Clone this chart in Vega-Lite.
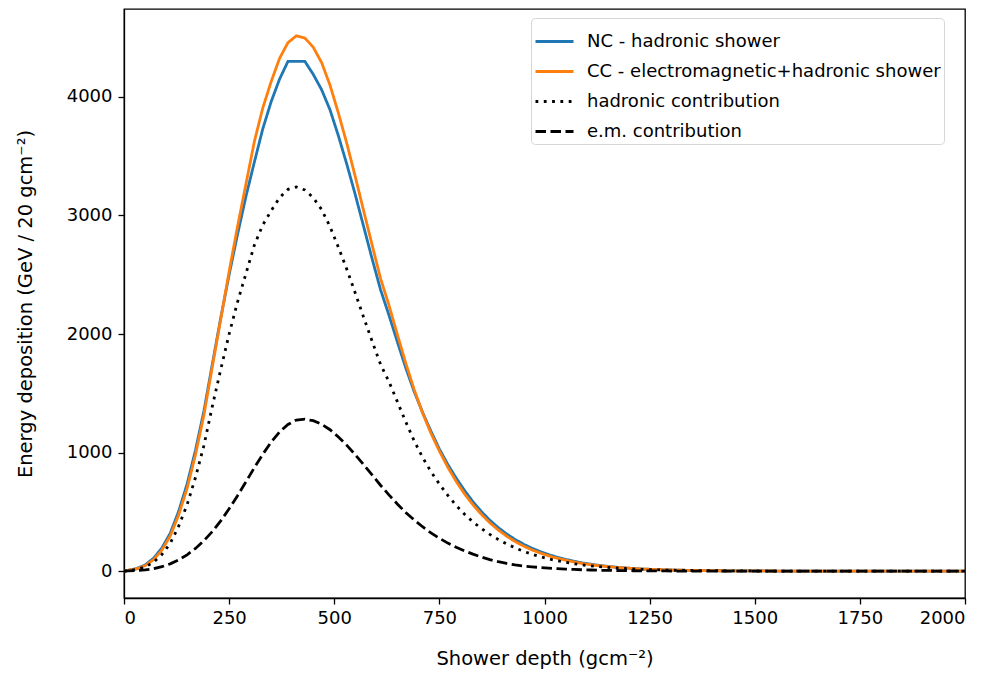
{
  "$schema": "https://vega.github.io/schema/vega-lite/v6.json",
  "width": 841,
  "height": 589,
  "autosize": {"type": "none"},
  "padding": {"left": 124, "top": 9, "right": 28, "bottom": 77},
  "background": "white",
  "config": {
    "font": "DejaVu Sans",
    "view": {"stroke": "black", "strokeWidth": 1.3},
    "axis": {
      "domainColor": "black", "tickColor": "black", "labelColor": "black", "titleColor": "black",
      "labelFont": "DejaVu Sans", "titleFont": "DejaVu Sans",
      "labelFontSize": 18, "titleFontSize": 19.5, "titleFontWeight": "normal",
      "tickSize": 6, "tickWidth": 1.3, "domainWidth": 1.3, "grid": false, "format": "d"
    },
    "legend": {
      "orient": "none", "legendX": 407, "legendY": 9,
      "labelFont": "DejaVu Sans", "labelFontSize": 18, "labelColor": "black", "labelLimit": 600,
      "symbolType": "stroke", "symbolSize": 1444, "symbolStrokeWidth": 2.8,
      "strokeColor": "#d6d6d6", "fillColor": "rgba(255,255,255,0.85)", "cornerRadius": 4,
      "padding": 3, "rowPadding": 0, "labelOffset": 12
    }
  },
  "data": {"values": [
    {"x": 0, "a": 0, "b": 0, "c": 0, "d": 0},
    {"x": 10, "a": 8, "b": 7, "c": 5, "d": 2},
    {"x": 30, "a": 22, "b": 20, "c": 15, "d": 5},
    {"x": 50, "a": 52, "b": 46, "c": 35, "d": 11},
    {"x": 70, "a": 108, "b": 96, "c": 75, "d": 21},
    {"x": 90, "a": 195, "b": 178, "c": 140, "d": 38},
    {"x": 110, "a": 320, "b": 297, "c": 235, "d": 62},
    {"x": 130, "a": 505, "b": 475, "c": 380, "d": 95},
    {"x": 150, "a": 735, "b": 698, "c": 560, "d": 138},
    {"x": 170, "a": 1020, "b": 982, "c": 790, "d": 192},
    {"x": 190, "a": 1350, "b": 1317, "c": 1060, "d": 257},
    {"x": 210, "a": 1745, "b": 1724, "c": 1390, "d": 334},
    {"x": 230, "a": 2135, "b": 2124, "c": 1700, "d": 424},
    {"x": 250, "a": 2500, "b": 2526, "c": 2000, "d": 526},
    {"x": 270, "a": 2840, "b": 2907, "c": 2270, "d": 637},
    {"x": 290, "a": 3160, "b": 3264, "c": 2510, "d": 754},
    {"x": 310, "a": 3450, "b": 3623, "c": 2750, "d": 873},
    {"x": 330, "a": 3730, "b": 3906, "c": 2920, "d": 986},
    {"x": 350, "a": 3960, "b": 4129, "c": 3040, "d": 1089},
    {"x": 370, "a": 4150, "b": 4325, "c": 3150, "d": 1175},
    {"x": 390, "a": 4300, "b": 4458, "c": 3220, "d": 1238},
    {"x": 410, "a": 4300, "b": 4515, "c": 3240, "d": 1275},
    {"x": 430, "a": 4300, "b": 4497, "c": 3215, "d": 1282},
    {"x": 450, "a": 4190, "b": 4419, "c": 3150, "d": 1269},
    {"x": 470, "a": 4060, "b": 4289, "c": 3050, "d": 1239},
    {"x": 490, "a": 3890, "b": 4098, "c": 2905, "d": 1193},
    {"x": 510, "a": 3670, "b": 3862, "c": 2730, "d": 1132},
    {"x": 530, "a": 3430, "b": 3606, "c": 2545, "d": 1061},
    {"x": 550, "a": 3175, "b": 3327, "c": 2345, "d": 982},
    {"x": 570, "a": 2905, "b": 3038, "c": 2140, "d": 898},
    {"x": 590, "a": 2635, "b": 2752, "c": 1940, "d": 812},
    {"x": 610, "a": 2375, "b": 2470, "c": 1745, "d": 725},
    {"x": 630, "a": 2160, "b": 2244, "c": 1600, "d": 644},
    {"x": 650, "a": 1935, "b": 1997, "c": 1430, "d": 567},
    {"x": 670, "a": 1715, "b": 1755, "c": 1260, "d": 495},
    {"x": 690, "a": 1515, "b": 1532, "c": 1100, "d": 432},
    {"x": 710, "a": 1340, "b": 1335, "c": 960, "d": 375},
    {"x": 730, "a": 1180, "b": 1163, "c": 840, "d": 323},
    {"x": 750, "a": 1030, "b": 1013, "c": 735, "d": 278},
    {"x": 770, "a": 900, "b": 877, "c": 640, "d": 237},
    {"x": 790, "a": 785, "b": 757, "c": 555, "d": 202},
    {"x": 810, "a": 680, "b": 651, "c": 480, "d": 171},
    {"x": 830, "a": 585, "b": 559, "c": 415, "d": 144},
    {"x": 850, "a": 502, "b": 479, "c": 360, "d": 119},
    {"x": 870, "a": 430, "b": 408, "c": 310, "d": 98},
    {"x": 890, "a": 368, "b": 348, "c": 268, "d": 80},
    {"x": 910, "a": 314, "b": 295, "c": 230, "d": 65},
    {"x": 930, "a": 268, "b": 250, "c": 197, "d": 53},
    {"x": 950, "a": 228, "b": 212, "c": 168, "d": 44},
    {"x": 970, "a": 194, "b": 180, "c": 143, "d": 37},
    {"x": 990, "a": 165, "b": 153, "c": 122, "d": 31},
    {"x": 1010, "a": 140, "b": 130, "c": 104, "d": 26},
    {"x": 1030, "a": 118, "b": 110, "c": 88, "d": 22},
    {"x": 1050, "a": 100, "b": 93, "c": 75, "d": 18},
    {"x": 1070, "a": 84, "b": 78, "c": 63, "d": 15},
    {"x": 1090, "a": 70, "b": 65, "c": 53, "d": 12},
    {"x": 1110, "a": 59, "b": 55, "c": 45, "d": 10},
    {"x": 1130, "a": 49, "b": 46, "c": 38, "d": 8},
    {"x": 1150, "a": 41, "b": 39, "c": 32, "d": 7},
    {"x": 1170, "a": 34, "b": 33, "c": 27, "d": 6},
    {"x": 1190, "a": 28, "b": 28, "c": 23, "d": 5},
    {"x": 1210, "a": 23, "b": 23, "c": 19, "d": 4},
    {"x": 1230, "a": 19, "b": 19, "c": 16, "d": 3},
    {"x": 1250, "a": 16, "b": 16, "c": 13, "d": 3},
    {"x": 1270, "a": 13, "b": 13, "c": 11, "d": 2},
    {"x": 1290, "a": 11, "b": 11, "c": 9, "d": 2},
    {"x": 1330, "a": 8, "b": 8, "c": 7, "d": 1},
    {"x": 1370, "a": 6, "b": 6, "c": 5, "d": 1},
    {"x": 1410, "a": 4, "b": 4, "c": 4, "d": 1},
    {"x": 1450, "a": 3, "b": 3, "c": 3, "d": 0},
    {"x": 1490, "a": 2, "b": 2, "c": 2, "d": 0},
    {"x": 1530, "a": 2, "b": 2, "c": 1, "d": 0},
    {"x": 1570, "a": 1, "b": 1, "c": 1, "d": 0},
    {"x": 1650, "a": 1, "b": 1, "c": 1, "d": 0},
    {"x": 1750, "a": 1, "b": 1, "c": 0, "d": 0},
    {"x": 1850, "a": 0, "b": 0, "c": 0, "d": 0},
    {"x": 1990, "a": 0, "b": 0, "c": 0, "d": 0},
    {"x": 2010, "a": 0, "b": 0, "c": 0, "d": 0}
  ]},
  "transform": [{"fold": ["a", "b", "c", "d"], "as": ["series", "value"]}],
  "mark": {"type": "line", "strokeWidth": 2.8, "clip": true},
  "encoding": {
    "x": {
      "field": "x", "type": "quantitative",
      "scale": {"domain": [0, 2000], "nice": false},
      "axis": {"values": [0, 250, 500, 750, 1000, 1250, 1500, 1750, 2000], "title": "Shower depth (gcm⁻²)", "labelPadding": 5, "titlePadding": 22}
    },
    "y": {
      "field": "value", "type": "quantitative",
      "scale": {"domain": [-226, 4741], "nice": false, "zero": false},
      "axis": {"values": [0, 1000, 2000, 3000, 4000], "title": "Energy deposition (GeV / 20 gcm⁻²)", "labelPadding": 6, "titlePadding": 31}
    },
    "color": {
      "field": "series", "type": "nominal",
      "scale": {"domain": ["a", "b", "c", "d"], "range": ["#1f77b4", "#ff7f0e", "#000000", "#000000"]},
      "legend": {"title": null, "labelExpr": "{'a':'NC - hadronic shower','b':'CC - electromagnetic+hadronic shower','c':'hadronic contribution','d':'e.m. contribution'}[datum.label]"}
    },
    "strokeDash": {
      "field": "series", "type": "nominal",
      "scale": {"domain": ["a", "b", "c", "d"], "range": [[1, 0], [1, 0], [2.8, 5.5], [10.5, 4.5]]},
      "legend": {"title": null, "labelExpr": "{'a':'NC - hadronic shower','b':'CC - electromagnetic+hadronic shower','c':'hadronic contribution','d':'e.m. contribution'}[datum.label]"}
    }
  }
}
